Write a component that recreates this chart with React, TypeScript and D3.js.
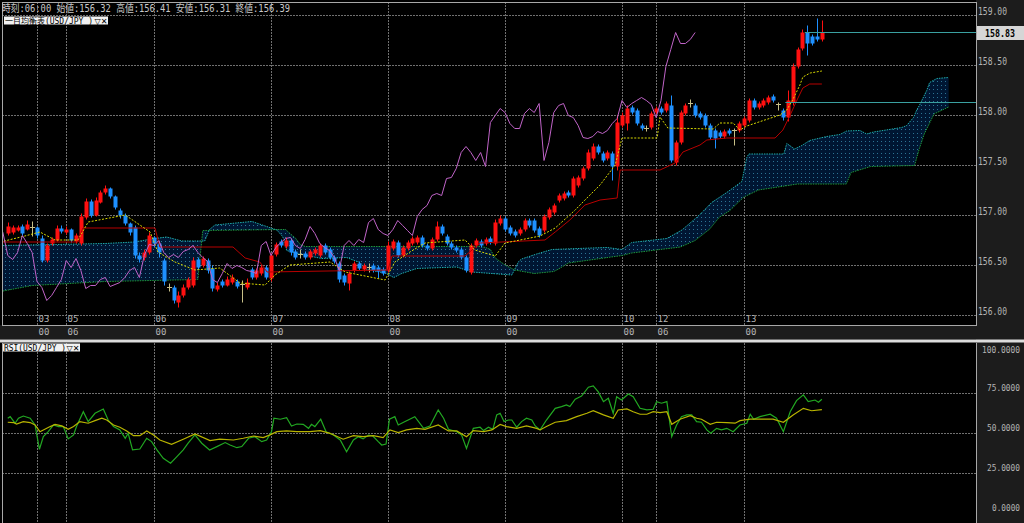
import React from "react";
import * as d3 from "d3";

// ---------- Candles (hourly USD/JPY), index 0..167 ----------
const opens = [
  156.82,156.83,156.85,156.89,156.86,156.88,156.88,156.77,156.55,156.72,
  156.75,156.87,156.83,156.86,156.74,156.72,156.98,157.14,157.00,157.13,
  157.23,157.27,157.19,157.05,157.00,156.92,156.88,156.60,156.58,156.63,
  156.78,156.72,156.55,156.28,156.28,156.13,156.20,156.28,156.30,156.56,
  156.50,156.55,156.47,156.26,156.34,156.30,156.33,156.34,156.31,156.28,
  156.46,156.38,156.42,156.48,156.37,156.61,156.74,156.69,156.75,156.64,
  156.61,156.62,156.58,156.62,156.60,156.70,156.66,156.58,156.52,156.40,
  156.32,156.45,156.52,156.46,156.48,156.50,156.48,156.46,156.45,156.67,
  156.73,156.60,156.67,156.72,156.73,156.78,156.70,156.67,156.76,156.89,
  156.79,156.72,156.68,156.66,156.58,156.43,156.70,156.74,156.72,156.77,
  156.72,156.92,156.97,156.88,156.84,156.82,156.86,156.95,156.95,156.87,
  156.85,156.98,157.03,157.15,157.17,157.23,157.20,157.30,157.37,157.47,
  157.57,157.69,157.62,157.57,157.62,157.49,157.90,157.92,158.08,158.05,
  157.90,157.87,157.88,158.03,158.07,158.05,158.10,157.53,157.73,158.02,
  158.12,158.10,158.02,158.00,157.90,157.85,157.83,157.79,157.85,157.85,
  157.85,157.90,157.95,158.15,158.08,158.10,158.13,158.19,158.11,158.05,
  157.98,158.13,158.49,158.67,158.83,158.79,158.79,158.76,
];
const highs = [
  156.93,156.90,156.90,156.91,156.95,156.94,156.89,156.80,156.72,156.78,
  156.90,156.90,156.89,156.87,156.82,157.02,157.17,157.16,157.18,157.25,
  157.30,157.28,157.20,157.07,157.02,156.93,156.90,156.63,156.66,156.83,
  156.79,156.74,156.57,156.32,156.30,156.24,156.31,156.38,156.58,156.58,
  156.59,156.57,156.50,156.33,156.36,156.39,156.41,156.36,156.35,156.37,
  156.48,156.47,156.50,156.50,156.62,156.73,156.76,156.78,156.77,156.66,
  156.66,156.64,156.66,156.68,156.72,156.72,156.68,156.60,156.54,156.42,
  156.44,156.54,156.54,156.52,156.52,156.52,156.50,156.48,156.74,156.76,
  156.75,156.70,156.75,156.79,156.80,156.80,156.72,156.78,156.94,156.91,
  156.81,156.74,156.70,156.68,156.60,156.72,156.77,156.76,156.78,156.79,
  156.96,157.00,156.99,156.90,156.86,156.88,156.97,156.97,156.97,156.89,
  157.01,157.08,157.12,157.22,157.24,157.25,157.39,157.40,157.49,157.66,
  157.72,157.71,157.64,157.65,157.64,158.00,158.03,158.10,158.10,158.07,
  157.92,157.90,158.04,158.09,158.09,158.14,158.20,157.75,158.05,158.12,
  158.16,158.12,158.04,158.02,157.92,157.87,157.85,157.86,157.87,157.87,
  157.94,157.99,158.17,158.17,158.14,158.17,158.20,158.21,158.13,158.07,
  158.25,158.52,158.68,158.86,158.90,158.81,158.97,158.95,
];
const lows = [
  156.80,156.81,156.84,156.80,156.85,156.79,156.77,156.53,156.53,156.70,
  156.74,156.82,156.81,156.73,156.72,156.70,156.96,156.98,156.99,157.12,
  157.21,157.17,157.06,156.97,156.90,156.80,156.57,156.53,156.55,156.61,
  156.68,156.58,156.30,156.24,156.12,156.08,156.18,156.26,156.28,156.46,
  156.48,156.42,156.24,156.24,156.28,156.29,156.31,156.27,156.13,156.26,
  156.36,156.36,156.40,156.36,156.34,156.59,156.68,156.67,156.60,156.56,
  156.57,156.56,156.56,156.60,156.58,156.61,156.56,156.52,156.33,156.30,
  156.25,156.43,156.45,156.44,156.43,156.43,156.37,156.40,156.43,156.65,
  156.58,156.58,156.65,156.70,156.71,156.68,156.65,156.65,156.74,156.80,
  156.70,156.66,156.63,156.56,156.43,156.41,156.68,156.68,156.70,156.71,
  156.70,156.90,156.84,156.80,156.78,156.80,156.84,156.88,156.83,156.78,
  156.83,156.96,157.01,157.13,157.15,157.18,157.18,157.28,157.35,157.45,
  157.55,157.61,157.53,157.55,157.35,157.45,157.88,157.85,158.01,157.90,
  157.85,157.84,157.86,158.01,158.01,158.03,157.53,157.50,157.71,158.00,
  158.08,157.98,157.96,157.88,157.76,157.67,157.77,157.77,157.80,157.70,
  157.83,157.88,157.93,158.06,158.06,158.08,158.11,158.13,158.05,157.95,
  157.94,158.10,158.47,158.65,158.60,158.70,158.74,158.74,
];
const closes = [
  156.89,156.88,156.88,156.82,156.91,156.88,156.80,156.55,156.70,156.76,
  156.87,156.84,156.86,156.75,156.80,156.99,157.14,157.00,157.15,157.23,
  157.27,157.19,157.08,157.00,156.92,156.83,156.60,156.56,156.63,156.80,
  156.72,156.63,156.34,156.28,156.15,156.20,156.28,156.36,156.55,156.48,
  156.57,156.45,156.27,156.30,156.30,156.36,156.38,156.29,156.31,156.33,
  156.38,156.45,156.48,156.38,156.60,156.71,156.70,156.75,156.63,156.58,
  156.61,156.58,156.64,156.66,156.70,156.63,156.58,156.54,156.36,156.33,
  156.42,156.52,156.47,156.50,156.48,156.45,156.44,156.42,156.70,156.74,
  156.60,156.68,156.73,156.77,156.78,156.70,156.67,156.76,156.89,156.82,
  156.72,156.68,156.65,156.58,156.45,156.70,156.75,156.70,156.76,156.73,
  156.93,156.97,156.86,156.82,156.80,156.86,156.95,156.90,156.85,156.80,
  156.99,157.06,157.10,157.20,157.22,157.20,157.37,157.38,157.47,157.63,
  157.69,157.63,157.55,157.63,157.49,157.93,158.00,158.07,158.03,157.92,
  157.87,157.87,158.02,158.07,158.03,158.12,157.55,157.73,158.03,158.10,
  158.12,158.00,157.98,157.90,157.78,157.77,157.79,157.84,157.82,157.85,
  157.92,157.97,158.15,158.08,158.12,158.15,158.18,158.15,158.11,157.98,
  158.15,158.49,158.66,158.83,158.72,158.72,158.76,158.83,
];

// ---------- Ichimoku lines, [candle index, price] ----------
const tenkan = [
  [-1.5,156.735],[3.5,156.795],[6.6,156.835],[9.7,156.755],[14.4,156.755],[16.5,156.935],
  [24.1,157.005],[27.1,156.905],[29.2,156.835],[30.8,156.635],[34.3,156.535],[38.4,156.455],
  [43.5,156.475],[47.6,156.325],[52.8,156.305],[54.8,156.405],[57.9,156.505],[66.1,156.535],
  [69.2,156.435],[77.4,156.355],[79.4,156.535],[82.5,156.635],[85.6,156.725],[93.8,156.755],
  [95.8,156.655],[100,156.595],[102,156.725],[109.2,156.795],[112.3,156.875],[116.4,157.055],
  [118.4,157.155],[121.5,157.305],[124.6,157.505],[126,157.775],[133.2,157.775],[133.8,157.985],
  [135.4,157.875],[144.7,157.865],[146.1,157.925],[148.8,157.925],[150.2,157.855],[151.6,157.895],
  [158.4,158.005],[159.8,158.055],[161,158.155],[162.5,158.305],[163.1,158.385],[164.6,158.425],
  [167,158.445],
];
const kijun = [
  [-1.5,156.735],[14.4,156.735],[15.4,156.875],[30.2,156.875],[31.2,156.685],[46.2,156.685],
  [48.7,156.575],[51.7,156.535],[53.2,156.435],[78,156.455],[78.8,156.595],[93.8,156.595],
  [96.9,156.725],[110.2,156.755],[112.3,156.835],[115.3,156.955],[118.4,157.105],[121.5,157.155],
  [125,157.175],[125.6,157.455],[133.8,157.455],[136.9,157.525],[138.5,157.635],[142,157.705],
  [143.4,157.755],[147.5,157.775],[157.4,157.775],[159,157.855],[160.5,158.005],[161.9,158.155],
  [163.1,158.275],[164.5,158.315],[167,158.315],
];
const spanA = [
  [-1.5,156.70],[10,156.71],[20,156.72],[26,156.735],[29.5,156.765],[32.6,156.785],[35.7,156.745],
  [40.4,156.745],[41.4,156.86],[42.5,156.905],[50.1,156.94],[53.1,156.89],[55.2,156.855],
  [56.2,156.80],[56.8,156.755],[57.2,156.65],[60.3,156.61],[64.4,156.57],[69.5,156.58],
  [72.2,156.53],[73.6,156.46],[74.7,156.45],[77.7,156.42],[78.8,156.39],[79.2,156.38],
  [80.8,156.42],[83.9,156.47],[92.1,156.485],[95.2,156.435],[103.4,156.405],[104.8,156.54],
  [105.4,156.565],[108.5,156.615],[111.6,156.66],[119.8,156.675],[122.9,156.68],[126,156.66],
  [128,156.73],[135.2,156.77],[138.3,156.855],[141.3,156.98],[142.4,157.03],[144.4,157.13],
  [147.5,157.23],[150.6,157.34],[151.6,157.58],[152,157.615],[159.2,157.615],[159.8,157.72],
  [161.4,157.665],[162.9,157.70],[164.5,157.75],[168,157.79],[170.7,157.81],[172.1,157.845],
  [174.8,157.85],[176.2,157.815],[177.6,157.835],[183.4,157.88],[184.4,157.90],[185.8,157.98],
  [186.5,158.06],[187,158.10],[188.5,158.25],[189.1,158.33],[190.6,158.37],[193,158.38],
];
const spanB = [
  [-1.5,156.24],[5,156.30],[20,156.34],[39,156.36],[40,156.85],[57,156.86],[58,156.815],
  [59,156.775],[60,156.71],[61,156.69],[97,156.69],[98,156.68],[99,156.66],[100,156.575],
  [102,156.505],[104,156.455],[108,156.42],[112,156.44],[113,156.465],[115,156.525],
  [126,156.60],[128,156.625],[138,156.685],[141,156.75],[144,156.865],[146,156.985],
  [148,157.045],[151,157.185],[154,157.255],[162,157.315],[172,157.315],[173,157.43],
  [177,157.49],[186,157.50],[187,157.67],[188,157.815],[189,157.915],[190,158.015],[193,158.085],
];
const refLines = [ [163.5, 158.83], [159.5, 158.14] ];

// ---------- RSI, [candle index, value] ----------
const rsiLine = [
  [0,59.4],[0.5,60.4],[1.5,56.3],[2.2,59.4],[3.2,60.8],[4.6,59.4],[5.6,55.2],[6.5,40.0],[7.3,47.9],
  [8.3,51.0],[9.4,55.2],[10.4,54.2],[11.4,54.2],[12.4,46.5],[13.5,49.0],[14.1,54.2],[15.5,63.5],
  [16.5,57.3],[17.9,62.5],[19.6,65.2],[20.6,58.3],[21.7,54.2],[23.0,52.1],[24.1,46.9],[24.7,50.0],
  [25.6,39.6],[27.1,40.2],[28.5,46.9],[29.5,44.8],[30.6,39.6],[31.9,34.4],[33.4,31.3],[34.7,35.4],
  [36.0,39.6],[37.0,43.8],[38.4,49.0],[39.8,43.8],[41.4,39.6],[42.9,41.7],[44.6,44.2],[45.6,42.7],
  [47.0,41.0],[48.0,41.7],[49.4,46.9],[50.7,47.9],[52.1,44.8],[53.1,45.8],[54.1,51.0],[54.6,59.4],
  [55.9,58.8],[57.2,59.8],[58.2,54.6],[59.3,55.8],[60.6,55.6],[61.7,53.1],[62.3,55.6],[63.0,54.2],
  [64.2,58.8],[65.3,51.0],[66.8,48.9],[68.2,45.8],[69.5,38.5],[70.9,45.8],[71.9,47.9],[72.9,46.5],
  [74.0,48.9],[74.9,48.3],[76.0,44.8],[76.7,42.7],[77.6,43.3],[78.3,58.8],[79.4,60.4],[80.1,55.2],
  [81.2,56.9],[83.5,60.4],[85.3,53.1],[86.6,54.6],[88.3,64.6],[89.4,59.4],[90.4,52.5],[92.1,51.0],
  [93.1,48.9],[94.1,40.6],[95.5,53.1],[96.9,53.8],[97.6,51.7],[98.6,53.8],[99.5,52.5],[100.3,61.5],
  [101.0,62.5],[101.8,57.3],[102.7,58.3],[103.4,58.3],[104.4,53.8],[105.4,57.3],[106.4,59.4],
  [107.5,58.3],[108.2,54.6],[109.2,52.1],[110.5,58.3],[112.3,65.6],[113.6,66.7],[114.6,67.7],
  [115.3,66.7],[116.4,71.3],[117.7,73.3],[119.1,78.8],[120.1,79.6],[121.1,76.0],[122.2,69.8],
  [123.2,71.9],[124.2,62.5],[124.9,72.9],[125.9,70.8],[127.3,74.6],[128.3,72.9],[129.7,65.6],
  [131.1,64.6],[132.4,65.0],[133.1,69.8],[134.1,68.8],[135.2,69.8],[136.2,47.9],[137.2,55.2],
  [138.2,60.4],[139.3,61.5],[140.3,61.5],[141.3,57.3],[142.3,56.9],[143.4,52.1],[144.2,50.0],
  [145.4,53.1],[146.4,52.1],[147.5,53.1],[148.8,51.0],[150.2,55.2],[151.6,56.3],[152.3,61.9],
  [153.0,58.8],[154.3,60.4],[156.4,61.9],[157.7,59.4],[159.1,51.0],[160.5,63.5],[161.8,70.4],
  [163.2,74.0],[164.2,69.8],[165.6,70.8],[166.3,69.4],[167.0,71.3],
];
const rsiSignal = [
  [0,56.9],[1.2,56.7],[1.8,55.8],[3.2,57.3],[4.6,56.7],[5.6,55.2],[6.6,51.0],[8.7,54.2],[9.7,55.6],
  [11.1,54.6],[12.4,52.5],[13.5,54.2],[14.8,57.3],[16.5,56.3],[17.9,57.9],[19.3,59.4],[20.3,58.3],
  [21.7,55.2],[23.0,53.8],[24.4,51.5],[25.8,48.5],[27.1,48.5],[28.5,51.5],[29.9,48.9],[31.2,45.8],
  [33.6,43.1],[36.0,46.3],[38.4,49.6],[41.5,45.4],[43.5,46.3],[46.3,45.8],[48.3,46.9],[50.4,48.3],
  [52.4,47.3],[53.8,49.0],[55.2,51.0],[57.2,51.5],[59.3,51.0],[62.0,51.0],[64.1,51.7],[66.1,50.0],
  [68.8,46.3],[70.9,48.5],[72.9,47.9],[75.0,48.5],[77.0,47.3],[78.4,52.1],[80.1,50.4],[81.8,52.1],
  [83.9,53.1],[85.6,52.5],[88.3,55.2],[90.4,51.5],[92.1,51.5],[94.1,47.9],[95.5,51.7],[97.6,51.0],
  [99.3,52.1],[101.0,55.5],[102.3,54.2],[104.4,53.1],[106.4,54.6],[108.5,53.1],[109.2,52.1],
  [110.5,54.2],[112.3,56.9],[114.6,57.9],[116.7,60.4],[118.8,62.5],[120.1,64.2],[122.2,61.5],
  [124.2,59.4],[125.2,64.6],[127.0,65.2],[128.3,63.5],[129.7,61.9],[131.1,61.9],[132.4,63.5],
  [133.8,62.9],[135.2,63.5],[136.2,55.6],[137.9,58.8],[140.0,61.0],[141.3,59.4],[142.3,58.8],
  [144.1,55.6],[145.4,56.9],[147.5,56.7],[149.2,56.3],[150.2,57.9],[152.3,58.8],[154.3,58.8],
  [157.0,58.8],[159.1,56.9],[161.1,61.5],[163.2,65.6],[164.9,64.1],[167.0,64.8],
];

// ---------- Axes ----------
const tickIdx = [6, 12, 30, 54, 78, 102, 126, 133, 151];
const tickDay = ["03", "05", "06", "07", "08", "09", "10", "12", "13"];
const tickHour = ["00", "06", "00", "00", "00", "00", "00", "06", "00"];
const priceTicks = [159, 158.5, 158, 157.5, 157, 156.5, 156];
const rsiTicks = [100, 75, 50, 25, 0];
const rsiGrid = [75, 50, 25];
const lastPrice = 158.83;
const CHIKOU_SHIFT = 26;

const L = 2, R = 976, MT = 2, MB = 325, RT = 343, RB = 523;
const MONO = "'DejaVu Sans Mono','Liberation Mono',monospace";
const CJK = "'DejaVu Sans Mono','Noto Sans CJK JP',monospace";
const GRID = "#707070";
const AXIS_TXT = "#b4b4b4";

function interp(pts: number[][], j: number) {
  if (j <= pts[0][0]) return pts[0][1];
  for (let k = 1; k < pts.length; k++) {
    if (j <= pts[k][0]) {
      const [j0, v0] = pts[k - 1];
      const [j1, v1] = pts[k];
      return v0 + ((v1 - v0) * (j - j0)) / (j1 - j0);
    }
  }
  return pts[pts.length - 1][1];
}

export default function App() {
  const x = d3.scaleLinear().domain([6, 151]).range([37, 743.875]);
  const yP = d3.scaleLinear().domain([156, 159]).range([315.5, 15.5]);
  const yR = d3.scaleLinear().domain([0, 100]).range([513.3, 353.3]);

  const priceLine = d3.line<number[]>().x((d) => x(d[0])).y((d) => yP(d[1]));
  const rsiPath = d3.line<number[]>().x((d) => x(d[0])).y((d) => yR(d[1]));

  const cloudJ = Array.from(new Set([...spanA.map((d) => d[0]), ...spanB.map((d) => d[0])])).sort((a, b) => a - b);
  const cloudArea = d3
    .area<number>()
    .x((j) => x(j))
    .y0((j) => yP(interp(spanB, j)))
    .y1((j) => yP(interp(spanA, j)));

  // lagging span: closes shifted back
  const chikou = closes.map((c, i) => [i - CHIKOU_SHIFT, c]).filter((d) => d[0] >= -2);

  const gx = (i: number) => Math.round(x(i)) + 0.5;

  return (
    <div style={{ position: "fixed", left: 0, top: 0, width: 1024, height: 523, background: "#000" }}>
      <svg width={1024} height={523} style={{ display: "block" }}>
        <defs>
          <pattern id="cloudDots" width={4} height={4} patternUnits="userSpaceOnUse">
            <rect width={4} height={4} fill="#001633" />
            <rect x={1} y={1} width={1} height={1} fill="#2c7494" />
          </pattern>
          <clipPath id="mainClip">
            <rect x={L + 1} y={MT + 1} width={R - L - 1} height={MB - MT - 1} />
          </clipPath>
          <clipPath id="rsiClip">
            <rect x={L + 1} y={RT} width={R - L - 1} height={RB - RT} />
          </clipPath>
        </defs>

        <rect x={0} y={0} width={1024} height={523} fill="#000" />
        {/* right axis + x axis strips */}
        <rect x={R} y={0} width={1024 - R} height={523} fill="#1c1c1c" />
        <rect x={0} y={MB} width={1024} height={14} fill="#1c1c1c" />
        <rect x={0} y={339.5} width={1024} height={3} fill="#dcdcdc" />

        {/* ===== main panel ===== */}
        <g clipPath="url(#mainClip)">
          {priceTicks.map((p) => (
            <line key={"hp" + p} x1={L} x2={R} y1={yP(p)} y2={yP(p)} stroke={GRID} strokeDasharray="2,1" />
          ))}
          {tickIdx.map((i) => (
            <line key={"vp" + i} x1={gx(i)} x2={gx(i)} y1={MT} y2={MB} stroke={GRID} strokeDasharray="2,1" />
          ))}

          <path d={cloudArea(cloudJ) || ""} fill="url(#cloudDots)" />
          <path d={priceLine(spanB) || ""} fill="none" stroke="#1f9a3a" strokeWidth={1} strokeDasharray="1.5,1" />
          <path d={priceLine(spanA) || ""} fill="none" stroke="#1fb0b0" strokeWidth={1} strokeDasharray="1.5,1" />

          {closes.map((c, i) => {
            const o = opens[i];
            const col = c > o ? "#ff1010" : c < o ? "#1e90ff" : "#c8c088";
            const cx = Math.round(x(i));
            const top = yP(Math.max(o, c));
            const bot = yP(Math.min(o, c));
            return (
              <g key={"c" + i}>
                <line x1={cx + 0.5} x2={cx + 0.5} y1={yP(highs[i])} y2={yP(lows[i])} stroke={col} strokeWidth={1} />
                {c === o ? (
                  <line x1={cx - 2} x2={cx + 3} y1={top} y2={top} stroke={col} strokeWidth={1} />
                ) : (
                  <rect x={cx - 1.5} y={top} width={4} height={Math.max(1, bot - top)} fill={col} />
                )}
              </g>
            );
          })}

          <path d={priceLine(kijun) || ""} fill="none" stroke="#b80000" strokeWidth={1} />
          <path d={priceLine(tenkan) || ""} fill="none" stroke="#d8d800" strokeWidth={1} strokeDasharray="2,1.5" />
          <path d={priceLine(chikou) || ""} fill="none" stroke="#c064c8" strokeWidth={1} />

          {refLines.map(([j, p], k) => (
            <line key={"rl" + k} x1={x(j)} x2={R} y1={Math.round(yP(p)) + 0.5} y2={Math.round(yP(p)) + 0.5} stroke="#3aa0a0" strokeWidth={1} />
          ))}

          {tickIdx.map((i, k) => (
            <text key={"td" + i} x={gx(i) + 1} y={322} fontSize={9} fill={AXIS_TXT} fontFamily={MONO}>
              {tickDay[k]}
            </text>
          ))}
        </g>
        <rect x={L + 0.5} y={MT + 0.5} width={R - L} height={MB - MT} fill="none" stroke="#a8a8a8" />

        {/* header */}
        <text x={2} y={11.5} fontSize={10} fill="#c8c8c8" fontFamily={CJK} textLength={288} lengthAdjust="spacingAndGlyphs">
          時刻:06:00 始値:156.32 高値:156.41 安値:156.31 終値:156.39
        </text>
        <rect x={4} y={16.5} width={104} height={8} fill="#f2f2f2" />
        <text x={5} y={23.6} fontSize={8} fill="#000" fontFamily={CJK} textLength={88} lengthAdjust="spacingAndGlyphs">
          一目均衡表(USD/JPY )
        </text>
        <text x={94.5} y={23.8} fontSize={8} fill="#000" fontFamily="'DejaVu Sans',sans-serif">▽✕</text>

        {/* price axis */}
        {priceTicks.map((p) => (
          <text key={"pl" + p} x={978} y={yP(p) - 0.5} fontSize={10} fill={AXIS_TXT} fontFamily={MONO} textLength={29} lengthAdjust="spacingAndGlyphs">
            {p.toFixed(2)}
          </text>
        ))}
        <rect x={R + 1} y={26} width={1024 - R - 1} height={14} fill="#d6d6d6" />
        <text x={985} y={36.8} fontSize={10} fontWeight="bold" fill="#000" fontFamily={MONO} textLength={30} lengthAdjust="spacingAndGlyphs">
          {lastPrice.toFixed(2)}
        </text>

        {/* x axis hours */}
        {tickIdx.map((i, k) => (
          <text key={"th" + i} x={gx(i) + 1} y={334.5} fontSize={9} fill={AXIS_TXT} fontFamily={MONO}>
            {tickHour[k]}
          </text>
        ))}

        {/* ===== RSI panel ===== */}
        <g clipPath="url(#rsiClip)">
          {rsiGrid.map((v) => (
            <line key={"hr" + v} x1={L} x2={R} y1={Math.round(yR(v)) + 0.5} y2={Math.round(yR(v)) + 0.5} stroke={GRID} strokeDasharray="2,1" />
          ))}
          {tickIdx.map((i) => (
            <line key={"vr" + i} x1={gx(i)} x2={gx(i)} y1={RT} y2={RB} stroke={GRID} strokeDasharray="2,1" />
          ))}
          <path d={rsiPath(rsiLine) || ""} fill="none" stroke="#22a822" strokeWidth={1.2} />
          <path d={rsiPath(rsiSignal) || ""} fill="none" stroke="#b8b400" strokeWidth={1.2} />
        </g>
        <line x1={L + 0.5} x2={L + 0.5} y1={RT} y2={RB} stroke="#a8a8a8" />
        <line x1={R + 0.5} x2={R + 0.5} y1={RT} y2={RB} stroke="#a8a8a8" />
        <rect x={3} y={343.5} width={77} height={8} fill="#f2f2f2" />
        <text x={4} y={350.6} fontSize={8} fill="#000" fontFamily={MONO} textLength={62} lengthAdjust="spacingAndGlyphs">
          RSI(USD/JPY )
        </text>
        <text x={66.5} y={350.8} fontSize={8} fill="#000" fontFamily="'DejaVu Sans',sans-serif">▽✕</text>

        {rsiTicks.map((v) => {
          const w = v === 100 ? 38 : v === 0 ? 28 : 33;
          return (
            <text key={"rt" + v} x={1020 - w} y={v === 100 ? 352.5 : yR(v) - 2} fontSize={8.5} fill={AXIS_TXT} fontFamily={MONO} textLength={w} lengthAdjust="spacingAndGlyphs">
              {v.toFixed(4)}
            </text>
          );
        })}
      </svg>
    </div>
  );
}
